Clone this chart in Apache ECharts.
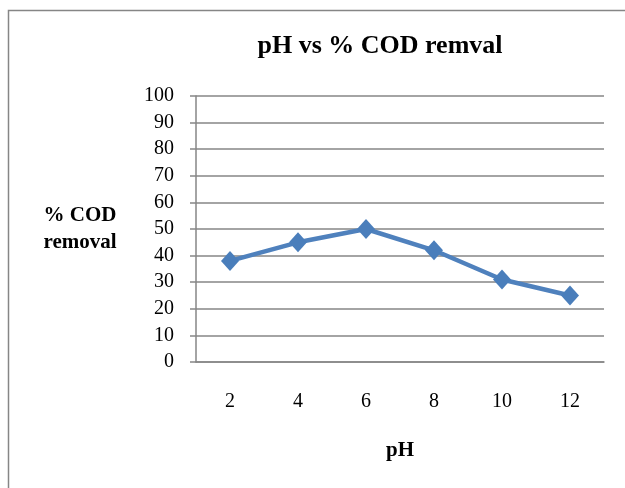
<!DOCTYPE html>
<html>
<head>
<meta charset="utf-8">
<script src="https://cdn.jsdelivr.net/npm/echarts@6/dist/echarts.min.js"></script>
<style>
  html, body { margin: 0; padding: 0; background: #fff; }
  #chart { width: 625px; height: 488px; }
</style>
</head>
<body>
<div id="chart"></div>
<script>
var categories = ['2', '4', '6', '8', '10', '12'];
var removal = [38, 45, 50, 42, 31, 25];

var chart = echarts.init(document.getElementById('chart'));
var font = '"Liberation Serif", "Times New Roman", serif';

chart.setOption({
    animation: false,
    backgroundColor: '#fff',
    graphic: [{
        type: 'rect',
        shape: { x: 8.5, y: 10.5, width: 640, height: 500 },
        style: { fill: 'none', stroke: '#868686', lineWidth: 1.5 }
    }, {
        type: 'text',
        x: 80, y: 229,
        style: {
            text: '% COD\nremoval',
            font: 'bold 21px ' + font,
            fill: '#000',
            align: 'center',
            verticalAlign: 'middle',
            lineHeight: 27
        }
    }],
    title: {
        text: 'pH vs % COD remval',
        left: 375, top: 28,
        textAlign: 'center',
        textStyle: { fontFamily: font, fontSize: 26, fontWeight: 'bold', color: '#000' }
    },
    grid: { left: 196, right: 21, top: 96, bottom: 126 },
    xAxis: {
        type: 'category',
        data: categories,
        boundaryGap: true,
        name: 'pH',
        nameLocation: 'middle',
        nameGap: 78,
        nameTextStyle: { fontFamily: font, fontSize: 21, fontWeight: 'bold', color: '#000' },
        axisLine: { lineStyle: { color: '#868686', width: 1.5 } },
        axisTick: { alignWithLabel: false, length: 6, lineStyle: { color: '#868686', width: 1.5 } },
        axisLabel: { fontFamily: font, fontSize: 20, color: '#000', margin: 30 },
        splitLine: { show: false }
    },
    yAxis: {
        type: 'value',
        min: 0, max: 100, interval: 10,
        axisLine: { show: true, lineStyle: { color: '#868686', width: 1.5 } },
        axisTick: { show: true, inside: false, length: 6, lineStyle: { color: '#868686', width: 1.5 } },
        axisLabel: { fontFamily: font, fontSize: 20, color: '#000', margin: 22 },
        splitLine: { lineStyle: { color: '#868686', width: 1.5 } }
    },
    series: [{
        type: 'line',
        data: removal,
        symbol: 'diamond',
        symbolSize: [18, 20],
        lineStyle: { color: '#4f81bd', width: 4.5 },
        itemStyle: { color: '#4a7ebb' }
    }]
});
</script>
</body>
</html>
